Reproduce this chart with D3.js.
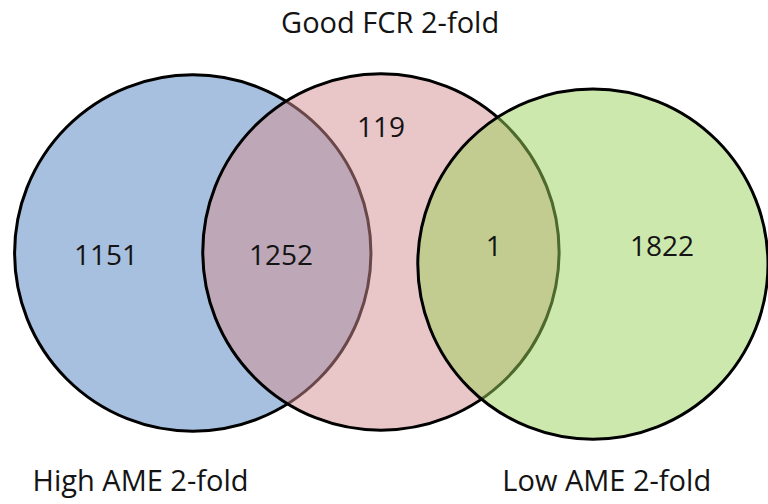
<!DOCTYPE html>
<html>
<head>
<meta charset="utf-8">
<script src="https://cdn.jsdelivr.net/npm/d3@7"></script>
<style>
  body { margin: 0; background: #fff; }
  svg { display: block; }
  text { font-family: "Open Sans", sans-serif; fill: #141414; }
</style>
</head>
<body>
<svg id="chart" width="768" height="504"></svg>
<script>
// sets of the diagram, drawn in this order
const setNames = ["High AME 2-fold", "Good FCR 2-fold", "Low AME 2-fold"];
const setColors = ["#a8c0df", "#d38d8f", "#9bd159"];
const setOpacity = [1, 0.5, 0.5];
// circle layout in unit space (radius in same units as x)
const setCx = [0.251, 0.496, 0.772];
const setCy = [0.502, 0.500, 0.524];
const setR = [0.232, 0.232, 0.228];
// where each set name sits
const nameX = [0.183, 0.508, 0.790];
const nameY = [0.974, 0.066, 0.974];

// region counts and label positions
const regionLabels = ["1151", "1252", "119", "1", "1822"];
const regionX = [0.138, 0.366, 0.496, 0.643, 0.862];
const regionY = [0.526, 0.526, 0.272, 0.508, 0.508];

const width = 768, height = 504;
const x = d3.scaleLinear().domain([0, 1]).range([0, width]);
const y = d3.scaleLinear().domain([0, 1]).range([0, height]);

const svg = d3.select("#chart");

svg.selectAll("circle.set")
  .data(setNames)
  .enter().append("circle")
  .attr("class", "set")
  .attr("cx", (d, i) => x(setCx[i]))
  .attr("cy", (d, i) => y(setCy[i]))
  .attr("r", (d, i) => x(setR[i]))
  .attr("fill", (d, i) => setColors[i])
  .attr("fill-opacity", (d, i) => setOpacity[i])
  .attr("stroke", "#000")
  .attr("stroke-width", 3);

svg.selectAll("text.region")
  .data(regionLabels)
  .enter().append("text")
  .attr("class", "region")
  .attr("x", (d, i) => x(regionX[i]))
  .attr("y", (d, i) => y(regionY[i]))
  .attr("text-anchor", "middle")
  .style("font-size", "28px")
  .text(d => d);

svg.selectAll("text.name")
  .data(setNames)
  .enter().append("text")
  .attr("class", "name")
  .attr("x", (d, i) => x(nameX[i]))
  .attr("y", (d, i) => y(nameY[i]))
  .attr("text-anchor", "middle")
  .style("font-size", "29px")
  .text(d => d);
</script>
</body>
</html>
